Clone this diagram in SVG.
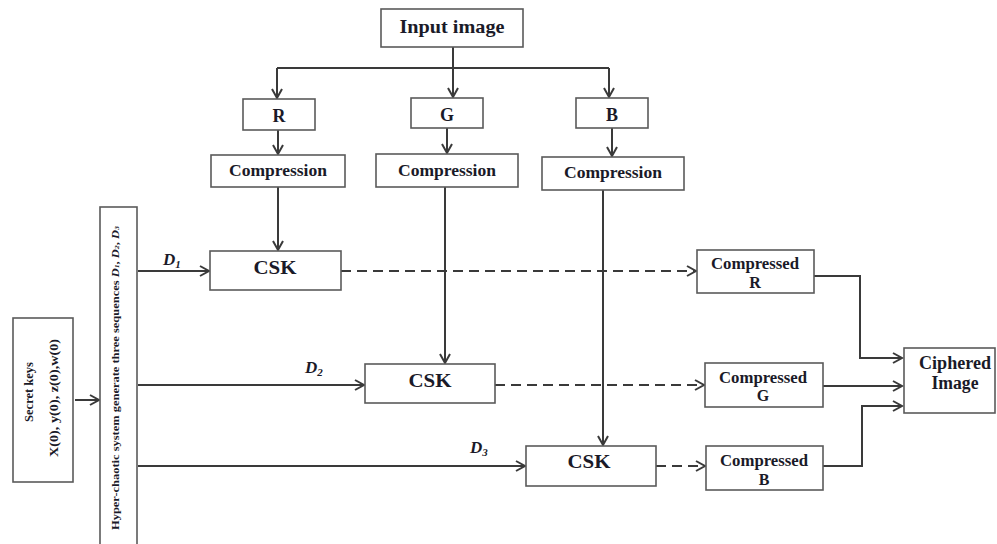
<svg xmlns="http://www.w3.org/2000/svg" width="997" height="544" viewBox="0 0 997 544">
<style>
.box{fill:#fff;stroke:#5a5a5a;stroke-width:1.6}
.t{font-family:"Liberation Serif","Times New Roman",serif;font-weight:bold;fill:#1a1a28;text-anchor:middle}
.ln{fill:none;stroke:#3a3a3a;stroke-width:2}
.ds{fill:none;stroke:#3a3a3a;stroke-width:1.8;stroke-dasharray:10,6}
.di{font-family:"Liberation Serif","Times New Roman",serif;font-weight:bold;font-style:italic;fill:#1a1a28}
</style>
<defs>
<marker id="ah" markerUnits="userSpaceOnUse" markerWidth="14" markerHeight="14" refX="11" refY="6" orient="auto">
<path d="M2,1 L11,6 L2,11" fill="none" stroke="#3a3a3a" stroke-width="2"/>
</marker>
</defs>
<rect width="997" height="544" fill="#fff"/>

<g id="connectors">
<path class="ln" d="M453,47 V68 M277,68 H609"/>
<path class="ln" d="M277,68 V98" marker-end="url(#ah)"/>
<path class="ln" d="M453,68 V97" marker-end="url(#ah)"/>
<path class="ln" d="M609,68 V97" marker-end="url(#ah)"/>
<path class="ln" d="M278,130 V154" marker-end="url(#ah)"/>
<path class="ln" d="M447,128 V153" marker-end="url(#ah)"/>
<path class="ln" d="M612,128 V156" marker-end="url(#ah)"/>
<path class="ln" d="M278,187 V250" marker-end="url(#ah)"/>
<path class="ln" d="M445,187 V363" marker-end="url(#ah)"/>
<path class="ln" d="M603,190 V445" marker-end="url(#ah)"/>
<path class="ln" d="M75,400 H99" marker-end="url(#ah)"/>
<path class="ln" d="M138,271 H209" marker-end="url(#ah)"/>
<path class="ln" d="M138,385 H364" marker-end="url(#ah)"/>
<path class="ln" d="M138,466 H525" marker-end="url(#ah)"/>
<path class="ds" d="M341,271 H696" marker-end="url(#ah)"/>
<path class="ds" d="M495,385 H704" marker-end="url(#ah)"/>
<path class="ds" d="M656,466 H705" marker-end="url(#ah)"/>
<path class="ln" d="M814,276 H860 V358 H902" marker-end="url(#ah)"/>
<path class="ln" d="M823,386 H902" marker-end="url(#ah)"/>
<path class="ln" d="M823,466 H862 V406 H902" marker-end="url(#ah)"/>
<text class="di" x="163" y="265" font-size="17">D<tspan font-size="11" dy="3">1</tspan></text>
<text class="di" x="305" y="373" font-size="17">D<tspan font-size="11" dy="3">2</tspan></text>
<text class="di" x="470" y="453" font-size="17">D<tspan font-size="11" dy="3">3</tspan></text>
</g>

<g id="input"><rect class="box" x="381" y="9" width="142" height="38"/><text class="t" x="452" y="33" font-size="19" textLength="105" lengthAdjust="spacingAndGlyphs">Input image</text></g>
<g id="r"><rect class="box" x="243" y="99" width="72" height="31"/><text class="t" x="279" y="122" font-size="18">R</text></g>
<g id="g"><rect class="box" x="411" y="98" width="72" height="30"/><text class="t" x="447" y="121" font-size="18">G</text></g>
<g id="b"><rect class="box" x="576" y="98" width="72" height="30"/><text class="t" x="612" y="121" font-size="18">B</text></g>
<g id="compR"><rect class="box" x="211" y="155" width="134" height="32"/><text class="t" x="278" y="176" font-size="17" textLength="98" lengthAdjust="spacingAndGlyphs">Compression</text></g>
<g id="compG"><rect class="box" x="376" y="154" width="142" height="33"/><text class="t" x="447" y="176" font-size="17" textLength="98" lengthAdjust="spacingAndGlyphs">Compression</text></g>
<g id="compB"><rect class="box" x="542" y="157" width="142" height="33"/><text class="t" x="613" y="178" font-size="17" textLength="98" lengthAdjust="spacingAndGlyphs">Compression</text></g>
<g id="csk1"><rect class="box" x="210" y="251" width="131" height="39"/><text class="t" x="275" y="274" font-size="19" textLength="43" lengthAdjust="spacingAndGlyphs">CSK</text></g>
<g id="csk2"><rect class="box" x="365" y="364" width="130" height="39"/><text class="t" x="430" y="387" font-size="19" textLength="43" lengthAdjust="spacingAndGlyphs">CSK</text></g>
<g id="csk3"><rect class="box" x="526" y="446" width="130" height="40"/><text class="t" x="589" y="468" font-size="19" textLength="43" lengthAdjust="spacingAndGlyphs">CSK</text></g>
<g id="cmpR"><rect class="box" x="697" y="250" width="117" height="43"/><text class="t" x="755" y="269" font-size="16" textLength="88" lengthAdjust="spacingAndGlyphs">Compressed</text><text class="t" x="755" y="288" font-size="16">R</text></g>
<g id="cmpG"><rect class="box" x="705" y="363" width="118" height="44"/><text class="t" x="763" y="383" font-size="16" textLength="88" lengthAdjust="spacingAndGlyphs">Compressed</text><text class="t" x="763" y="401" font-size="16">G</text></g>
<g id="cmpB"><rect class="box" x="706" y="446" width="117" height="44"/><text class="t" x="764" y="466" font-size="16" textLength="88" lengthAdjust="spacingAndGlyphs">Compressed</text><text class="t" x="764" y="485" font-size="16">B</text></g>
<g id="ciphered"><rect class="box" x="904" y="348" width="91" height="65"/><text class="t" x="955" y="369" font-size="18" textLength="72" lengthAdjust="spacingAndGlyphs">Ciphered</text><text class="t" x="955" y="389" font-size="18" textLength="47" lengthAdjust="spacingAndGlyphs">Image</text></g>
<g id="secret"><rect class="box" x="13" y="318" width="60" height="164"/>
<text class="t" transform="translate(33,392) rotate(-90)" font-size="12.5">Secret keys</text>
<text class="t" transform="translate(58,398) rotate(-90)" font-size="12.5" textLength="118" lengthAdjust="spacingAndGlyphs">X(0), y(0), z(0),w(0)</text></g>
<g id="hyper"><rect class="box" x="100" y="207" width="37" height="345"/>
<text class="t" transform="translate(119,378) rotate(-90)" font-size="11" textLength="304" lengthAdjust="spacingAndGlyphs">Hyper-chaotic system generate three sequences <tspan font-style="italic">D</tspan><tspan font-size="7" font-style="italic">1</tspan>, <tspan font-style="italic">D</tspan><tspan font-size="7" font-style="italic">2</tspan>, <tspan font-style="italic">D</tspan><tspan font-size="7" font-style="italic">3</tspan></text></g>
</svg>
